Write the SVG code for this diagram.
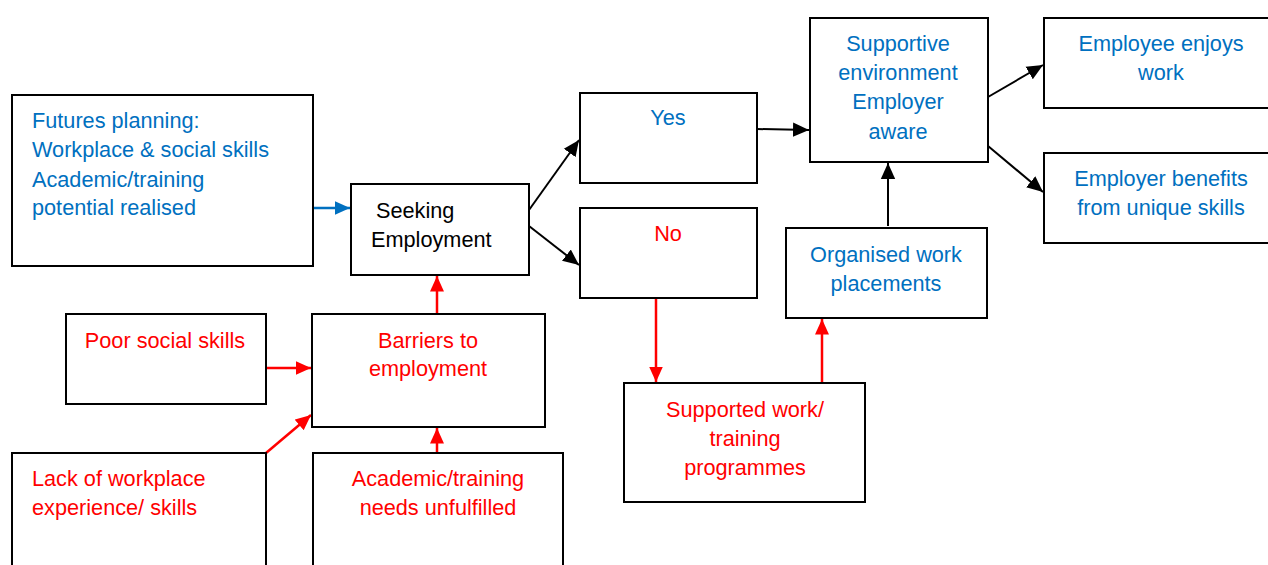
<svg xmlns="http://www.w3.org/2000/svg" width="1268" height="565" viewBox="0 0 1268 565">
<style>
rect{fill:#fff;stroke:#000;stroke-width:2}
text{font-family:"Liberation Sans",Arial,sans-serif;font-size:21.7px}
.b{fill:#0070C0}.r{fill:#FF0000}.k{fill:#000}
.m{text-anchor:middle}
.cb{stroke:#0070C0;stroke-width:2.5;fill:none}
.cr{stroke:#FF0000;stroke-width:2.5;fill:none}
.ck{stroke:#000;stroke-width:2;fill:none}
</style>
<defs>
<marker id="ak" viewBox="0 0 10 10" refX="10" refY="5" markerWidth="8" markerHeight="8" orient="auto" markerUnits="strokeWidth"><path d="M0,0.5L10,5L0,9.5z" fill="#000"/></marker>
<marker id="ar" viewBox="0 0 10 10" refX="10" refY="5" markerWidth="6.2" markerHeight="6.2" orient="auto" markerUnits="strokeWidth"><path d="M0,0.5L10,5L0,9.5z" fill="#FF0000"/></marker>
<marker id="ab" viewBox="0 0 10 10" refX="10" refY="5" markerWidth="6.2" markerHeight="6.2" orient="auto" markerUnits="strokeWidth"><path d="M0,0.5L10,5L0,9.5z" fill="#0070C0"/></marker>
</defs>
<rect width="1268" height="565" style="stroke:none"/>
<g id="connectors">
<line class="cb" x1="313" y1="208" x2="350" y2="208" marker-end="url(#ab)"/>
<line class="ck" x1="529" y1="210" x2="579" y2="140" marker-end="url(#ak)"/>
<line class="ck" x1="529" y1="226" x2="579" y2="265" marker-end="url(#ak)"/>
<line class="ck" x1="757" y1="129" x2="809" y2="130" marker-end="url(#ak)"/>
<line class="ck" x1="988" y1="97" x2="1043" y2="65" marker-end="url(#ak)"/>
<line class="ck" x1="988" y1="146" x2="1043" y2="192" marker-end="url(#ak)"/>
<line class="ck" x1="888" y1="226" x2="888" y2="163" marker-end="url(#ak)"/>
<line class="cr" x1="656" y1="299" x2="656" y2="382" marker-end="url(#ar)"/>
<line class="cr" x1="822" y1="383" x2="822" y2="319" marker-end="url(#ar)"/>
<line class="cr" x1="437" y1="314" x2="437" y2="276" marker-end="url(#ar)"/>
<line class="cr" x1="266" y1="368" x2="311" y2="368" marker-end="url(#ar)"/>
<line class="cr" x1="266" y1="453" x2="311" y2="415" marker-end="url(#ar)"/>
<line class="cr" x1="437" y1="453" x2="437" y2="428" marker-end="url(#ar)"/>
</g>
<g id="futures"><rect x="12" y="95" width="301" height="171"/>
<text class="b" x="32" y="128">Futures planning:</text>
<text class="b" x="32" y="157">Workplace &amp; social skills</text>
<text class="b" x="32" y="187">Academic/training</text>
<text class="b" x="32" y="215">potential realised</text></g>
<g id="seeking"><rect x="351" y="184" width="178" height="91"/>
<text class="k" x="376" y="218">Seeking</text>
<text class="k" x="371" y="247">Employment</text></g>
<g id="yes"><rect x="580" y="93" width="177" height="90"/>
<text class="b m" x="668" y="125">Yes</text></g>
<g id="no"><rect x="580" y="208" width="177" height="90"/>
<text class="r m" x="668" y="241">No</text></g>
<g id="supportive"><rect x="810" y="18" width="178" height="144"/>
<text class="b m" x="898" y="51">Supportive</text>
<text class="b m" x="898" y="80">environment</text>
<text class="b m" x="898" y="109">Employer</text>
<text class="b m" x="898" y="139">aware</text></g>
<g id="enjoys"><rect x="1044" y="18" width="230" height="90"/>
<text class="b m" x="1161" y="51">Employee enjoys</text>
<text class="b m" x="1161" y="80">work</text></g>
<g id="benefits"><rect x="1044" y="153" width="230" height="90"/>
<text class="b m" x="1161" y="186">Employer benefits</text>
<text class="b m" x="1161" y="215">from unique skills</text></g>
<g id="organised"><rect x="786" y="228" width="201" height="90"/>
<text class="b m" x="886" y="262">Organised work</text>
<text class="b m" x="886" y="291">placements</text></g>
<g id="supported"><rect x="624" y="383" width="241" height="119"/>
<text class="r m" x="745" y="417">Supported work/</text>
<text class="r m" x="745" y="446">training</text>
<text class="r m" x="745" y="475">programmes</text></g>
<g id="barriers"><rect x="312" y="314" width="233" height="113"/>
<text class="r m" x="428" y="348">Barriers to</text>
<text class="r m" x="428" y="376">employment</text></g>
<g id="poor"><rect x="66" y="314" width="200" height="90"/>
<text class="r m" x="165" y="348">Poor social skills</text></g>
<g id="lack"><rect x="12" y="453" width="254" height="130"/>
<text class="r" x="32" y="486">Lack of workplace</text>
<text class="r" x="32" y="515">experience/ skills</text></g>
<g id="academic"><rect x="313" y="453" width="250" height="130"/>
<text class="r m" x="438" y="486">Academic/training</text>
<text class="r m" x="438" y="515">needs unfulfilled</text></g>
</svg>
